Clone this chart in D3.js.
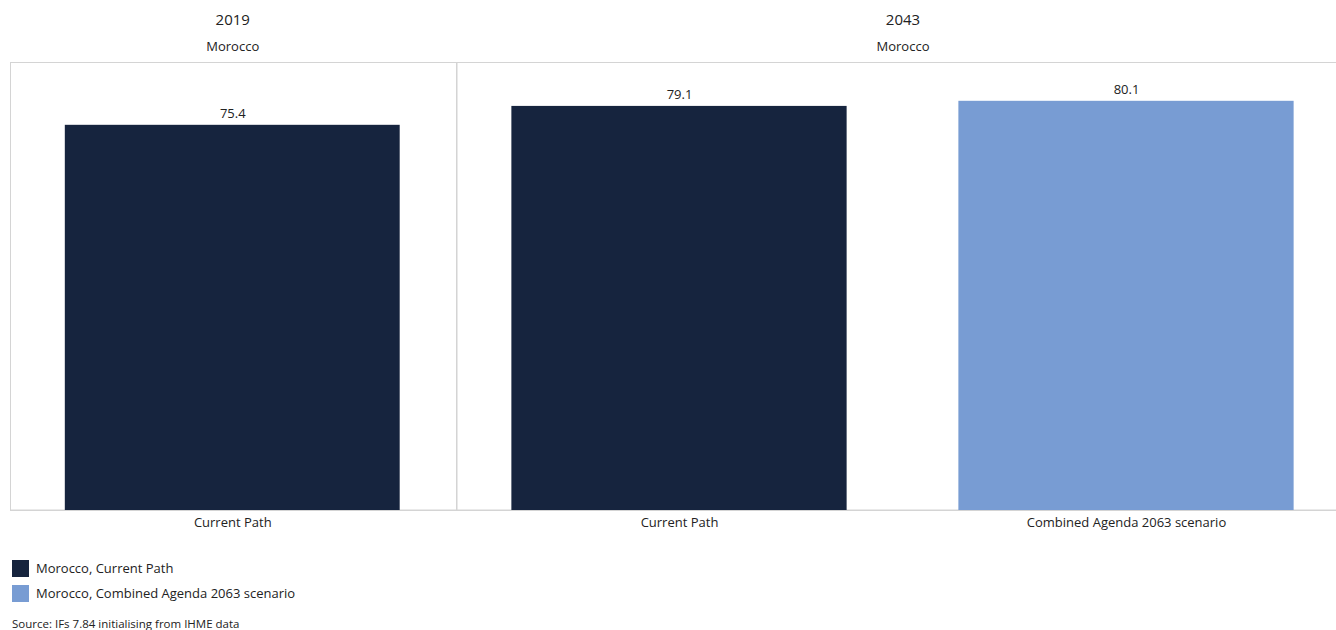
<!DOCTYPE html>
<html>
<head>
<meta charset="utf-8">
<script src="https://cdn.jsdelivr.net/npm/d3@7"></script>
<style>
  body { margin: 0; background: #fff; }
  text { font-family: "Open Sans", "Noto Sans", sans-serif; fill: #222; }
</style>
</head>
<body>
<svg id="chart"></svg>
<script>
const W = 1336
const H = 630

const years = ['2019', '2043']
const country = 'Morocco'
const scenarios2019 = ['Current Path']
const values2019 = [75.4]
const scenarios2043 = ['Current Path', 'Combined Agenda 2063 scenario']
const values2043 = [79.1, 80.1]
const legendLabels = ['Morocco, Current Path', 'Morocco, Combined Agenda 2063 scenario']
const source = 'Source: IFs 7.84 initialising from IHME data'

const color = d3.scaleOrdinal()
  .domain(['Current Path', 'Combined Agenda 2063 scenario'])
  .range(['#16243e', '#789cd3'])

const svg = d3.select('svg#chart').attr('width', W).attr('height', H)

const plotTop = 63, plotBottom = 510
const yScale = d3.scaleLinear().domain([0, 87.5]).range([plotBottom, plotTop])

const panels = [
  { year: years[0], x0: 9.5, x1: 456, cats: scenarios2019, vals: values2019 },
  { year: years[1], x0: 456, x1: 1350, cats: scenarios2043, vals: values2043 }
]

// bottom axis line across all panels
svg.append('line')
  .attr('x1', 10).attr('x2', W)
  .attr('y1', plotBottom + 0.5).attr('y2', plotBottom + 0.5)
  .attr('stroke', '#d4d4d4')

panels.forEach(function (p) {
  const x = d3.scaleBand()
    .domain(p.cats)
    .range([p.x0, p.x1])
    .paddingInner(0.25)
    .paddingOuter(0.125)

  const g = svg.append('g')

  g.append('rect')
    .attr('x', Math.round(p.x0) + 0.5)
    .attr('y', plotTop - 0.5)
    .attr('width', p.x1 - p.x0)
    .attr('height', plotBottom - plotTop + 0.5)
    .attr('fill', 'none')
    .attr('stroke', '#d4d4d4')

  const mid = (p.x0 + p.x1) / 2
  g.append('text')
    .attr('x', mid).attr('y', 25)
    .attr('text-anchor', 'middle')
    .style('font-size', '15px')
    .text(p.year)
  g.append('text')
    .attr('x', mid).attr('y', 51)
    .attr('text-anchor', 'middle')
    .style('font-size', '13px')
    .text(country)

  const data = p.cats.map((c, i) => ({ cat: c, val: p.vals[i] }))

  g.selectAll('rect.bar')
    .data(data)
    .enter()
    .append('rect')
    .attr('class', 'bar')
    .attr('x', d => x(d.cat) - 0.5)
    .attr('width', x.bandwidth())
    .attr('y', d => yScale(d.val))
    .attr('height', d => plotBottom - yScale(d.val))
    .attr('fill', d => color(d.cat))

  g.selectAll('text.val')
    .data(data)
    .enter()
    .append('text')
    .attr('class', 'val')
    .attr('x', d => x(d.cat) + x.bandwidth() / 2)
    .attr('y', d => yScale(d.val) - 7)
    .attr('text-anchor', 'middle')
    .style('font-size', '13px')
    .text(d => d.val.toFixed(1))

  const xAxis = d3.axisBottom(x).tickSize(0).tickPadding(8)
  const ax = g.append('g')
    .attr('transform', 'translate(0,' + plotBottom + ')')
    .call(xAxis)
  ax.select('.domain').remove()
  ax.selectAll('text')
    .style('font-size', '13px')
    .style('font-family', '"Open Sans", "Noto Sans", sans-serif')
    .attr('fill', '#222')
})

// legend
const legend = svg.append('g')
legend.selectAll('rect')
  .data(color.domain())
  .enter()
  .append('rect')
  .attr('x', 12)
  .attr('y', (d, i) => 560 + i * 25)
  .attr('width', 17)
  .attr('height', 17)
  .attr('fill', d => color(d))

legend.selectAll('text')
  .data(legendLabels)
  .enter()
  .append('text')
  .attr('x', 36)
  .attr('y', (d, i) => 573 + i * 25)
  .style('font-size', '13px')
  .text(d => d)

svg.append('text')
  .attr('x', 12)
  .attr('y', 628)
  .style('font-size', '11.5px')
  .text(source)
</script>
</body>
</html>
